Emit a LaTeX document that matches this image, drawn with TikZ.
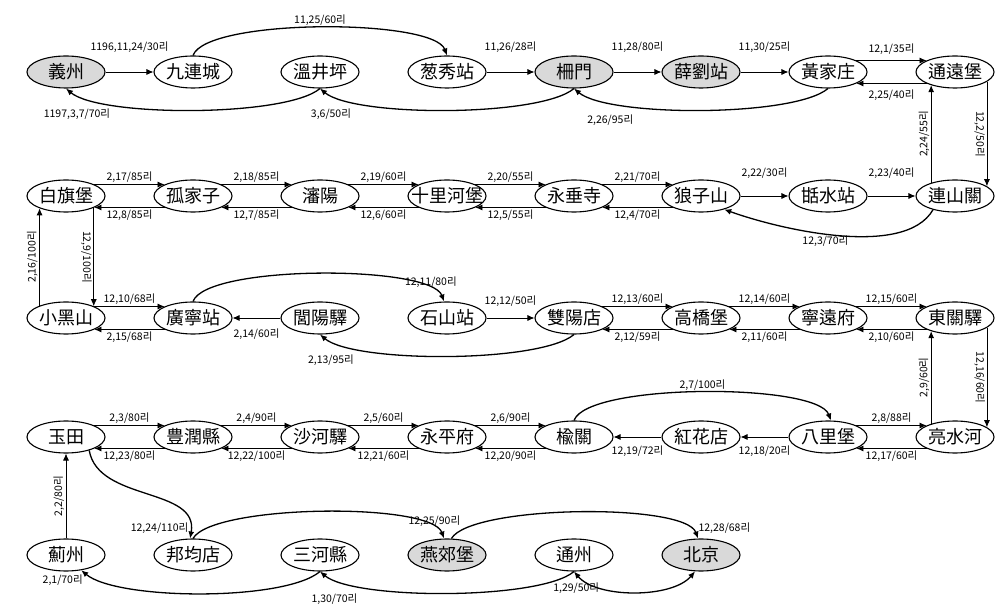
\documentclass[tikz,border=0pt]{standalone}
\usepackage{fontspec}
\newfontfamily\krfont{Noto Sans CJK KR}
\usetikzlibrary{%
    arrows.meta,
    positioning,
    shapes.geometric
}
\tikzset{goarrow/.style = {-{Latex[length=7pt,width=6pt]}},
    bothways/.style = {{Latex[length=7pt,width=6pt]}-{Latex[length=7pt,width=6pt]}}}

\begin{document}
\begin{tikzpicture}[
    x=1pt, y=1pt,
    node distance=127pt, on grid,
    station/.style = {ellipse, draw, line width=1.1pt, minimum width=78pt,
        minimum height=32pt, inner sep=0pt,
        font=\krfont\fontsize{18}{18}\selectfont},
    visited/.style = {station, fill=gray!30},
    longname/.style = {inner xsep=-8.5pt},
    day/.style = {font=\krfont\fontsize{10.5}{10.5}\selectfont, inner sep=1.5pt},
    road/.style = {goarrow, line width=.8pt},
    bypass/.style = {goarrow, line width=1.3pt}]
    \useasboundingbox (0,0) rectangle (997,-609);

    % row 1
    \node[visited] (yizhou) at (66,-72) {義州};
    \node[station] (jiulian) [right=of yizhou] {九連城};
    \node[station] (wenjing) [right=of jiulian] {溫井坪};
    \node[station] (congxiu) [right=of wenjing] {葱秀站};
    \node[visited] (zhamen) [right=of congxiu] {柵門};
    \node[visited] (xueliu) [right=of zhamen] {薛劉站};
    \node[station] (huangjia) [right=of xueliu] {黃家庄};
    \node[station] (tongyuan) [right=of huangjia] {通遠堡};

    % row 2
    \node[station] (baiqi) at (66,-196) {白旗堡};
    \node[station] (gujia) [right=of baiqi] {孤家子};
    \node[station] (shenyang) [right=of gujia] {瀋陽};
    \node[station, longname] (shili) [right=of shenyang] {十里河堡};
    \node[station] (yongchui) [right=of shili] {永垂寺};
    \node[station] (langzi) [right=of yongchui] {狼子山};
    \node[station] (tianshui) [right=of langzi] {甛水站};
    \node[station] (lianshan) [right=of tianshui] {連山關};

    % row 3
    \node[station] (xiaohei) at (66,-318) {小黑山};
    \node[station] (guangning) [right=of xiaohei] {廣寧站};
    \node[station] (lvyang) [right=of guangning] {閭陽驛};
    \node[station] (shishan) [right=of lvyang] {石山站};
    \node[station] (shuangyang) [right=of shishan] {雙陽店};
    \node[station] (gaoqiao) [right=of shuangyang] {高橋堡};
    \node[station] (ningyuan) [right=of gaoqiao] {寧遠府};
    \node[station] (dongguan) [right=of ningyuan] {東關驛};

    % row 4
    \node[station] (yutian) at (66,-437) {玉田};
    \node[station] (fengrun) [right=of yutian] {豊潤縣};
    \node[station] (shahe) [right=of fengrun] {沙河驛};
    \node[station] (yongping) [right=of shahe] {永平府};
    \node[station] (yuguan) [right=of yongping] {楡關};
    \node[station] (honghua) [right=of yuguan] {紅花店};
    \node[station] (bali) [right=of honghua] {八里堡};
    \node[station] (liangshui) [right=of bali] {亮水河};

    % row 5
    \node[station] (jizhou) at (66,-555) {薊州};
    \node[station] (bangjun) [right=of jizhou] {邦均店};
    \node[station] (sanhe) [right=of bangjun] {三河縣};
    \node[visited] (yanjiao) [right=of sanhe] {燕郊堡};
    \node[station] (tongzhou) [right=of yanjiao] {通州};
    \node[visited] (beijing) [right=of tongzhou] {北京};

    % row 1 connections
    \draw[road] (yizhou) to node[day, above=18pt] {1196,11,24/30리} (jiulian);
    \draw[bypass] (jiulian.north) to[out=70, in=110, looseness=.4]
        node[day, above] {11,25/60리} (congxiu.north);
    \draw[road] (congxiu) to node[day, above=18pt] {11,26/28리} (zhamen);
    \draw[road] (zhamen) to node[day, above=18pt] {11,28/80리} (xueliu);
    \draw[road] (xueliu) to node[day, above=18pt] {11,30/25리} (huangjia);
    \draw[road] (huangjia.22) to node[day, above=4pt] {12,1/35리} (tongyuan.158);
    \draw[road] (tongyuan.-158) to node[day, below=4pt] {2,25/40리} (huangjia.-22);
    \draw[road] (tongyuan.-17) to node[day, rotate=-90, anchor=north] {12,2/50리} (lianshan.17);
    \draw[road] (lianshan.151) to node[day, rotate=90, anchor=south] {2,24/55리} (tongyuan.-151);
    \draw[bypass] (huangjia.south) to[out=-140, in=-40, looseness=.45]
        node[day, below=10pt, pos=.8] {2,26/95리} (zhamen.south);
    \draw[bypass] (zhamen.south) to[out=-140, in=-40, looseness=.45]
        node[day, below=12pt, pos=.92] {3,6/50리} (wenjing.south);
    \draw[bypass] (wenjing.south) to[out=-140, in=-40, looseness=.45]
        node[day, below=12pt, pos=.92] {1197,3,7/70리} (yizhou.south);

    % row 2 connections
    \draw[bypass] (lianshan.-148) to[out=-120, in=-20, looseness=.7]
        node[day, below, pos=.55] {12,3/70리} (langzi.-30);
    \draw[road] (langzi) to node[day, above=16pt] {2,22/30리} (tianshui);
    \draw[road] (tianshui) to node[day, above=16pt] {2,23/40리} (lianshan);
    \draw[road] (baiqi.22) to node[day, above] {2,17/85리} (gujia.158);
    \draw[road] (gujia.-158) to node[day, below] {12,8/85리} (baiqi.-22);
    \draw[road] (gujia.22) to node[day, above] {2,18/85리} (shenyang.158);
    \draw[road] (shenyang.-158) to node[day, below] {12,7/85리} (gujia.-22);
    \draw[road] (shenyang.22) to node[day, above] {2,19/60리} (shili.158);
    \draw[road] (shili.-158) to node[day, below] {12,6/60리} (shenyang.-22);
    \draw[road] (shili.22) to node[day, above] {2,20/55리} (yongchui.158);
    \draw[road] (yongchui.-158) to node[day, below] {12,5/55리} (shili.-22);
    \draw[road] (yongchui.22) to node[day, above] {2,21/70리} (langzi.158);
    \draw[road] (langzi.-158) to node[day, below] {12,4/70리} (yongchui.-22);
    \draw[road] (xiaohei.155) to node[day, rotate=90, anchor=south] {2,16/100리} (baiqi.-155);
    \draw[road] (baiqi.-23) to node[day, rotate=-90, anchor=north] {12,9/100리} (xiaohei.23);

    % row 3 connections
    \draw[road] (xiaohei.22) to node[day, above] {12,10/68리} (guangning.158);
    \draw[road] (guangning.-158) to node[day, below] {2,15/68리} (xiaohei.-22);
    \draw[bypass] (guangning.north) to[out=70, in=110, looseness=.4]
        node[day, above, pos=.88] {12,11/80리} (shishan.100);
    \draw[road] (shishan) to node[day, above=10pt] {12,12/50리} (shuangyang);
    \draw[road] (lvyang) to node[day, below=9pt] {2,14/60리} (guangning);
    \draw[bypass] (shuangyang.south) to[out=-140, in=-40, looseness=.45]
        node[day, below=12pt, pos=.92] {2,13/95리} (lvyang.south);
    \draw[road] (shuangyang.22) to node[day, above] {12,13/60리} (gaoqiao.158);
    \draw[road] (gaoqiao.-158) to node[day, below] {2,12/59리} (shuangyang.-22);
    \draw[road] (gaoqiao.22) to node[day, above] {12,14/60리} (ningyuan.158);
    \draw[road] (ningyuan.-158) to node[day, below] {2,11/60리} (gaoqiao.-22);
    \draw[road] (ningyuan.22) to node[day, above] {12,15/60리} (dongguan.158);
    \draw[road] (dongguan.-158) to node[day, below] {2,10/60리} (ningyuan.-22);
    \draw[road] (dongguan.-17) to node[day, rotate=-90, anchor=north] {12,16/60리} (liangshui.17);
    \draw[road] (liangshui.151) to node[day, rotate=90, anchor=south] {2,9/60리} (dongguan.-151);

    % row 4 connections
    \draw[road] (bali.22) to node[day, above] {2,8/88리} (liangshui.158);
    \draw[road] (liangshui.-158) to node[day, below] {12,17/60리} (bali.-22);
    \draw[road] (bali) to node[day, below=7pt] {12,18/20리} (honghua);
    \draw[road] (honghua) to node[day, below=7pt] {12,19/72리} (yuguan);
    \draw[bypass] (yuguan.north) to[out=70, in=110, looseness=.4]
        node[day, above] {2,7/100리} (bali.80);
    \draw[road] (yongping.22) to node[day, above] {2,6/90리} (yuguan.158);
    \draw[road] (yuguan.-158) to node[day, below] {12,20/90리} (yongping.-22);
    \draw[road] (shahe.22) to node[day, above] {2,5/60리} (yongping.158);
    \draw[road] (yongping.-158) to node[day, below] {12,21/60리} (shahe.-22);
    \draw[road] (fengrun.22) to node[day, above] {2,4/90리} (shahe.158);
    \draw[road] (shahe.-158) to node[day, below] {12,22/100리} (fengrun.-22);
    \draw[road] (yutian.22) to node[day, above] {2,3/80리} (fengrun.158);
    \draw[road] (fengrun.-158) to node[day, below] {12,23/80리} (yutian.-22);
    \draw[bypass] (yutian.-30) to[out=-80, in=80]
        node[day, left, pos=.93] {12,24/110리} (bangjun.100);
    \draw[road] (jizhou) to node[day, rotate=90, anchor=south] {2,2/80리} (yutian);

    % row 5 connections
    \draw[bypass] (bangjun.north) to[out=60, in=110, looseness=.4]
        node[day, above, pos=.9] {12,25/90리} (yanjiao.100);
    \draw[bypass] (yanjiao.75) to[out=60, in=110, looseness=.4]
        node[day, above right, pos=.97] {12,28/68리} (beijing.100);
    \draw[bypass, bothways] (beijing.-110) to[out=-130, in=-50, looseness=.75]
        node[day, below=7pt, pos=.97] {1,29/50리} (tongzhou.south);
    \draw[bypass] (tongzhou.south) to[out=-140, in=-40, looseness=.45]
        node[day, below=12pt, pos=.9] {1,30/70리} (sanhe.south);
    \draw[bypass] (sanhe.south) to[out=-140, in=-40, looseness=.5]
        node[day, below left, pos=.97] {2,1/70리} (jizhou.-45);
\end{tikzpicture}
\end{document}
